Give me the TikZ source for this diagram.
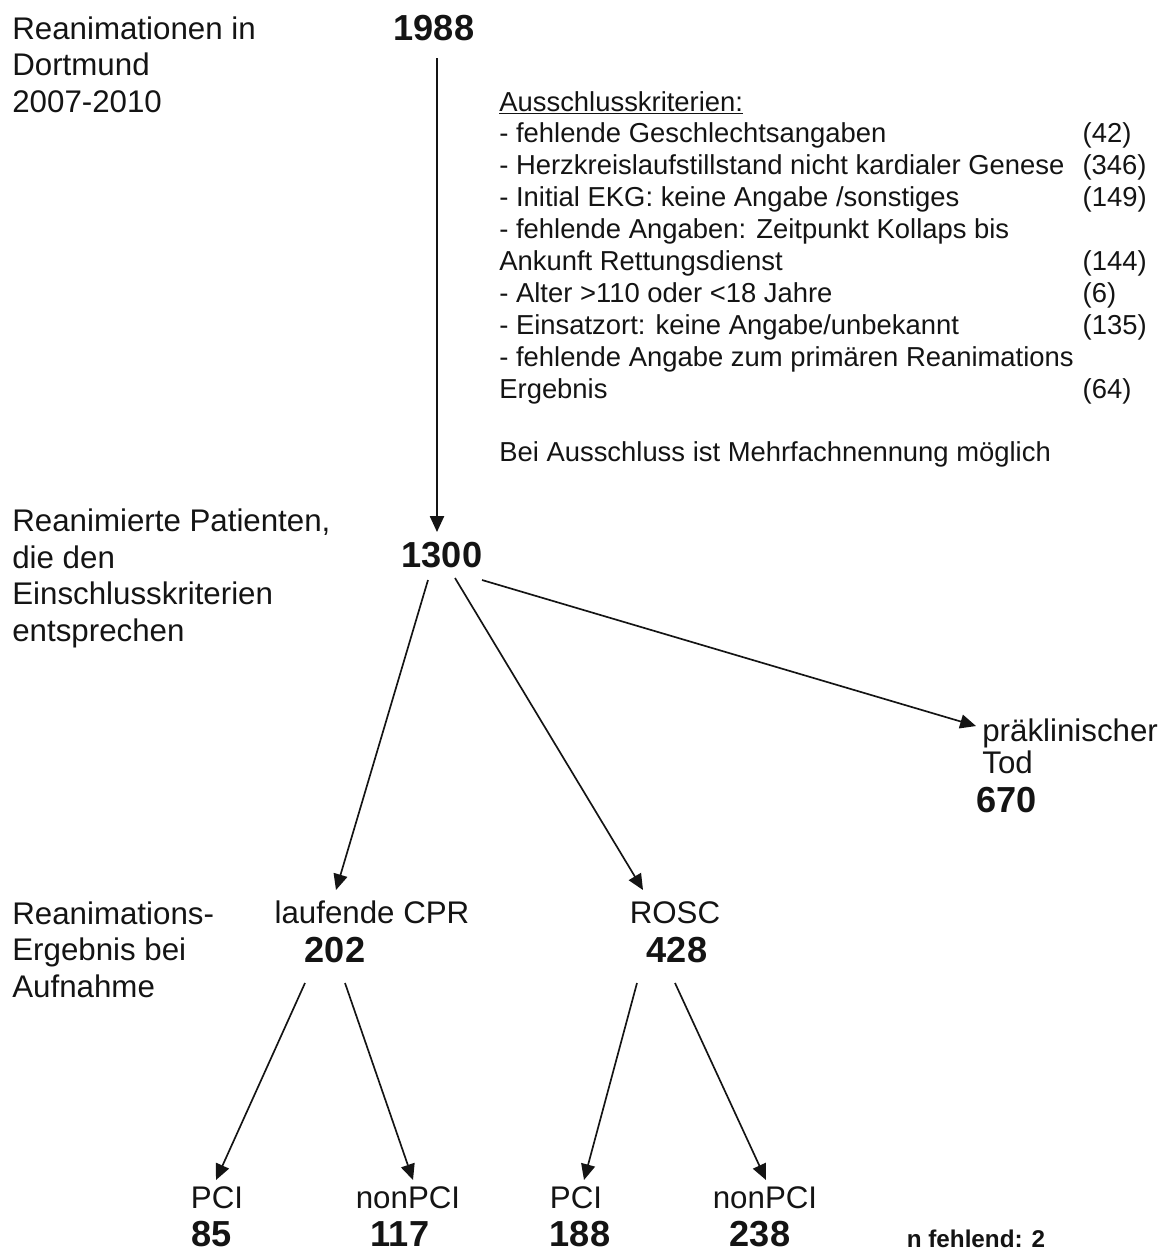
\documentclass[tikz,border=0pt]{standalone}
\usepackage{fontspec}
\setmainfont{Liberation Sans}
\usepackage{array}
\usetikzlibrary{arrows.meta,calc}
\definecolor{inktext}{RGB}{20,20,20}

\begin{document}
\begin{tikzpicture}[x=.02cm,y=-.02cm,
    every node/.style={inner sep=0pt,font=\fontsize{17.8}{20.7}\selectfont,text=inktext},
    lbl/.style={anchor=base west,align=left},
    num/.style={anchor=base,font=\fontsize{20.6}{24}\selectfont\bfseries},
    arr/.style={-{Triangle[length=9pt,width=8pt]},line width=.95pt,draw=inktext}]
    \useasboundingbox[fill=white] (0,0) rectangle (1168,1252);
    \node[lbl] (cohort) at (12,112) {Reanimationen in\\Dortmund\\2007-2010};
    \node[lbl] (incl) at (12,641) {Reanimierte Patienten,\\die den\\Einschlusskriterien\\entsprechen};
    \node[lbl] (result) at (12,997) {Reanimations-\\Ergebnis bei\\Aufnahme};
    \node[num] (n1988) at (434,40) {1988};
    \node[num] (n1300) at (442,567) {1300};
    \node[anchor=base west,font=\fontsize{15.6}{18.15}\selectfont] (excl) at (499,111) {%
      \begin{tabular}[t]{@{}p{332pt}@{}l@{}}
        \underline{Ausschlusskriterien:} & \\
        - fehlende Geschlechtsangaben & (42)\\
        \mbox{- Herzkreislaufstillstand nicht kardialer Genese} & (346)\\
        - Initial EKG: keine Angabe /sonstiges & (149)\\
        \mbox{- fehlende Angaben: Zeitpunkt Kollaps bis} & \\
        Ankunft Rettungsdienst & (144)\\
        - Alter >110 oder <18 Jahre & (6)\\
        - Einsatzort: keine Angabe/unbekannt & (135)\\
        \mbox{- fehlende Angabe zum primären Reanimations} & \\
        Ergebnis & (64)\\
        & \\
        \mbox{Bei Ausschluss ist Mehrfachnennung möglich} &
      \end{tabular}};
    \node[lbl,font=\fontsize{17.8}{18.2}\selectfont] (ptod) at (982,773) {präklinischer\\Tod};
    \node[num,anchor=base west] (n670) at (976,812) {670};
    \node[anchor=base] (cpr) at (372,923) {laufende CPR};
    \node[num] (n202) at (335,962) {202};
    \node[anchor=base] (rosc) at (675,923) {ROSC};
    \node[num] (n428) at (677,962) {428};
    \node[anchor=base] (pci1) at (217,1208) {PCI};
    \node[num] (n85) at (212,1246) {85};
    \node[anchor=base] (npci1) at (408,1208) {nonPCI};
    \node[num] (n117) at (400,1246) {117};
    \node[anchor=base] (pci2) at (576,1208) {PCI};
    \node[num] (n188) at (580,1246) {188};
    \node[anchor=base] (npci2) at (765,1208) {nonPCI};
    \node[num] (n238) at (760,1246) {238};
    \node[anchor=base,font=\fontsize{13.8}{16}\selectfont\bfseries] (missing) at (976,1247) {n fehlend: 2};
    \draw[arr] ($(n1988.base)+(3,18)$) -- ($(n1300.base)+(-5,-35)$);
    \draw[arr] ($(n1300.base)+(-14,13)$) -- ($(cpr.base)+(-36,-33)$);
    \draw[arr] ($(n1300.base)+(13,11)$) -- ($(rosc.base)+(-32,-33)$);
    \draw[arr] ($(n1300.base)+(40,13)$) -- ($(ptod.north west)+(-6,8)$);
    \draw[arr] ($(n202.base)+(-30,21)$) -- ($(pci1.base)+(-1,-28)$);
    \draw[arr] ($(n202.base)+(10,21)$) -- ($(npci1.base)+(5,-28)$);
    \draw[arr] ($(n428.base)+(-40,21)$) -- ($(pci2.base)+(8,-28)$);
    \draw[arr] ($(n428.base)+(-2,21)$) -- ($(npci2.base)+(1,-28)$);
\end{tikzpicture}
\end{document}
